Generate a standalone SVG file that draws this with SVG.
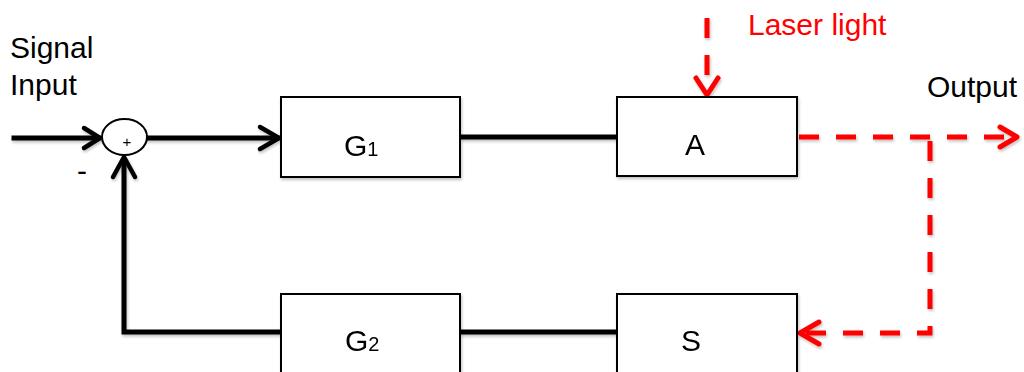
<svg xmlns="http://www.w3.org/2000/svg" width="1024" height="372" viewBox="0 0 1024 372">
  <defs>
    <style>
      .box { fill: #ffffff; stroke: #000000; stroke-width: 2; }
      .lbl { font-family: "Liberation Sans", Arial, sans-serif; font-size: 30px; fill: #000000; }
      .sub { font-size: 20px; }
      .wire { fill: none; stroke: #000000; stroke-width: 5; stroke-linecap: square; }
      .head { fill: none; stroke: #000000; stroke-width: 4.5; stroke-linecap: round; stroke-linejoin: round; }
      .light { fill: none; stroke: #ff0000; stroke-width: 5; stroke-dasharray: 20 17; }
      .lhead { fill: none; stroke: #ff0000; stroke-width: 5; stroke-linecap: round; stroke-linejoin: round; }
    </style>
    <filter id="shade" x="-10%" y="-10%" width="130%" height="140%">
      <feGaussianBlur in="SourceAlpha" stdDeviation="1.5"/>
      <feOffset dx="1" dy="2" result="b"/>
      <feComponentTransfer><feFuncA type="linear" slope="0.25"/></feComponentTransfer>
      <feMerge><feMergeNode/><feMergeNode in="SourceGraphic"/></feMerge>
    </filter>
  </defs>
  <rect width="1024" height="372" fill="#ffffff"/>

  <!-- free labels -->
  <text class="lbl" x="10" y="58">Signal</text>
  <text class="lbl" x="10" y="95">Input</text>
  <text class="lbl" x="927" y="97">Output</text>
  <text class="lbl" x="748" y="35" style="fill:#ff0000">Laser light</text>
  <text class="lbl" x="77" y="181">-</text>

  <!-- connectors -->
  <g id="connectors" filter="url(#shade)">
    <!-- signal input into the summing point -->
    <path class="wire" d="M14 138 H98"/>
    <path class="head" d="M84 128 L100 138 L84 148"/>
    <!-- summing point to G1 -->
    <path class="wire" d="M147 138 H277"/>
    <path class="head" d="M260 127 L279 138 L260 149"/>
    <!-- G1 to A -->
    <path class="wire" d="M460 137 H617" style="stroke-linecap:butt"/>
    <!-- G2 to S -->
    <path class="wire" d="M460 332 H617" style="stroke-linecap:butt"/>
    <!-- feedback from G2 back to the summing point -->
    <path class="wire" d="M281 332 H124 V159" style="stroke-linecap:butt;stroke-linejoin:miter"/>
    <path class="head" d="M113 177 L124 157 L135 177"/>
    <!-- laser light into A -->
    <path class="light" d="M707 18 V94"/>
    <path class="lhead" d="M696 78 L707 95 L718 78"/>
    <!-- optical output -->
    <path class="light" d="M799 137 H1014"/>
    <path class="lhead" d="M1000 127 L1017 137 L1000 147"/>
    <!-- optical feedback to S -->
    <path class="light" d="M930 139 V333 H803" style="stroke-dashoffset:-2"/>
    <path class="lhead" d="M819 322 L800 333 L819 344"/>
  </g>

  <!-- summing point -->
  <g id="sum">
    <ellipse cx="124.5" cy="137" rx="22.5" ry="18" fill="#ffffff" stroke="#000000" stroke-width="2"/>
    <text x="127" y="147" text-anchor="middle" font-family="Liberation Sans, Arial, sans-serif" font-size="15">+</text>
  </g>

  <g id="G1" filter="url(#shade)">
    <rect class="box" x="281" y="97" width="179" height="80"/>
    <text class="lbl" x="344" y="156">G<tspan class="sub">1</tspan></text>
  </g>

  <g id="A" filter="url(#shade)">
    <rect class="box" x="617" y="97" width="180" height="79"/>
    <text class="lbl" x="695" y="155" text-anchor="middle">A</text>
  </g>

  <g id="G2" filter="url(#shade)">
    <rect class="box" x="281" y="294" width="179" height="84"/>
    <text class="lbl" x="345" y="351">G<tspan class="sub">2</tspan></text>
  </g>

  <g id="S" filter="url(#shade)">
    <rect class="box" x="617" y="294" width="180" height="84"/>
    <text class="lbl" x="691" y="351" text-anchor="middle">S</text>
  </g>
</svg>
